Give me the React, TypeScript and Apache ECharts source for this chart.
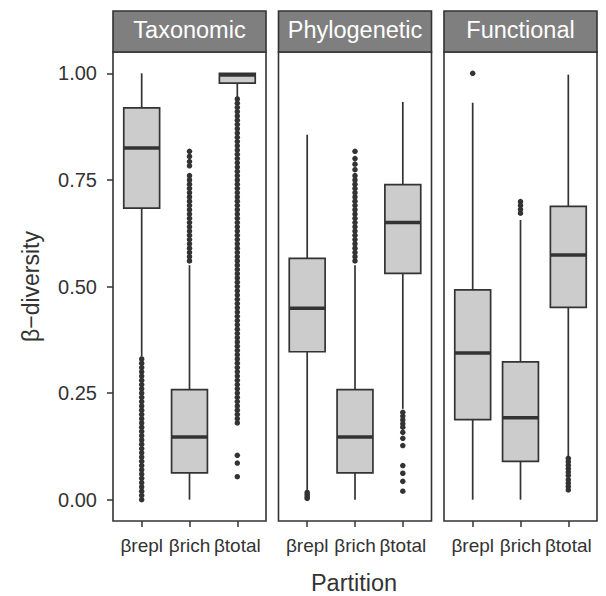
import React, { useEffect, useRef } from "react";
import * as echarts from "echarts";

const categories = ["βrepl", "βrich", "βtotal"];
const facets = ["Taxonomic", "Phylogenetic", "Functional"];
const yTicks = [0, 0.25, 0.5, 0.75, 1.0];

// [lower whisker, q1, median, q3, upper whisker] per category
const taxonomicStats = [
  [0.336, 0.684, 0.825, 0.919, 1.0],
  [0.0, 0.063, 0.147, 0.258, 0.55],
  [0.945, 0.977, 0.996, 1.0, 1.0],
];
const phylogeneticStats = [
  [0.021, 0.347, 0.449, 0.566, 0.856],
  [0.0, 0.063, 0.147, 0.258, 0.55],
  [0.213, 0.531, 0.65, 0.739, 0.933],
];
const functionalStats = [
  [0.0, 0.188, 0.344, 0.492, 0.931],
  [0.0, 0.09, 0.192, 0.323, 0.656],
  [0.1, 0.451, 0.574, 0.688, 0.997],
];

const taxonomicOutliers = [
  [0.33, 0.32, 0.31, 0.3, 0.29, 0.28, 0.27, 0.26, 0.25, 0.24, 0.23, 0.22, 0.21, 0.2, 0.19, 0.18, 0.17, 0.16, 0.15, 0.14, 0.13, 0.12, 0.11, 0.1, 0.09, 0.08, 0.07, 0.06, 0.05, 0.04, 0.03, 0.02, 0.01, 0.0],
  [0.817, 0.805, 0.793, 0.783, 0.76, 0.75, 0.74, 0.73, 0.72, 0.71, 0.7, 0.69, 0.68, 0.67, 0.66, 0.65, 0.64, 0.63, 0.62, 0.61, 0.6, 0.59, 0.58, 0.57, 0.56],
  [0.94, 0.93, 0.92, 0.91, 0.9, 0.89, 0.88, 0.87, 0.86, 0.85, 0.84, 0.83, 0.82, 0.81, 0.8, 0.79, 0.78, 0.77, 0.76, 0.75, 0.74, 0.73, 0.72, 0.71, 0.7, 0.69, 0.68, 0.67, 0.66, 0.65, 0.64, 0.63, 0.62, 0.61, 0.6, 0.59, 0.58, 0.57, 0.56, 0.55, 0.54, 0.53, 0.52, 0.51, 0.5, 0.49, 0.48, 0.47, 0.46, 0.45, 0.44, 0.43, 0.42, 0.41, 0.4, 0.39, 0.38, 0.37, 0.36, 0.35, 0.34, 0.33, 0.32, 0.31, 0.3, 0.29, 0.28, 0.27, 0.26, 0.25, 0.24, 0.23, 0.22, 0.21, 0.2, 0.19, 0.18, 0.104, 0.086, 0.054],
];
const phylogeneticOutliers = [
  [0.017, 0.012, 0.007, 0.003],
  [0.817, 0.8, 0.787, 0.774, 0.76, 0.75, 0.74, 0.73, 0.72, 0.71, 0.7, 0.69, 0.68, 0.67, 0.66, 0.65, 0.64, 0.63, 0.62, 0.61, 0.6, 0.59, 0.58, 0.57, 0.56],
  [0.205, 0.196, 0.187, 0.178, 0.17, 0.158, 0.144, 0.127, 0.08, 0.062, 0.043, 0.02],
];
const functionalOutliers = [
  [1.0],
  [0.699, 0.69, 0.681, 0.672],
  [0.097, 0.089, 0.081, 0.073, 0.065, 0.057, 0.047, 0.039, 0.031, 0.023],
];

const allStats = [taxonomicStats, phylogeneticStats, functionalStats];
const allOutliers = [taxonomicOutliers, phylogeneticOutliers, functionalOutliers];

const FONT = "'Liberation Sans', Arial, Helvetica, sans-serif";
const DARK = "#333333";

export default function App() {
  const ref = useRef<HTMLDivElement>(null);
  useEffect(() => {
    if (!ref.current) return;
    const chart = echarts.init(ref.current, undefined, { renderer: "svg" });

    const panelLefts = [113, 278.5, 444];
    const panelW = 153;
    const panelTop = 52;
    const panelH = 469;
    const unit = panelW / 3.2;

    const grids: any[] = [];
    const xAxes: any[] = [];
    const yAxes: any[] = [];
    const series: any[] = [];
    const graphics: any[] = [];

    panelLefts.forEach((L, i) => {
      grids.push({
        left: L + 0.1 * unit,
        top: panelTop,
        width: 3 * unit,
        height: panelH,
      });
      xAxes.push({
        type: "category",
        gridIndex: i,
        data: categories,
        boundaryGap: true,
        axisLine: { show: false, onZero: false },
        axisTick: { show: true, alignWithLabel: true, length: 6, lineStyle: { color: DARK, width: 1.5 } },
        axisLabel: { color: DARK, fontSize: 19, fontFamily: FONT, margin: 15, interval: 0 },
        splitLine: { show: false },
      });
      yAxes.push({
        type: "value",
        gridIndex: i,
        min: -0.05,
        max: 1.05,
        offset: 0.1 * unit,
        show: i === 0,
        axisLine: { show: false, onZero: false },
        axisTick: { show: true, length: 6, customValues: yTicks, lineStyle: { color: DARK, width: 1.5 } },
        axisLabel: {
          show: true,
          customValues: yTicks,
          color: DARK,
          fontSize: 20,
          fontFamily: FONT,
          margin: 16,
          formatter: (v: number) => v.toFixed(2),
        },
        splitLine: { show: false },
      });

      series.push({
        type: "custom",
        xAxisIndex: i,
        yAxisIndex: i,
        encode: { x: 0, y: [1, 2, 3, 4, 5] },
        data: allStats[i].map((s, k) => [k, ...s]),
        z: 2,
        renderItem: (params: any, api: any) => {
          const x = api.value(0);
          const lo = api.coord([x, api.value(1)]);
          const q1 = api.coord([x, api.value(2)]);
          const med = api.coord([x, api.value(3)]);
          const q3 = api.coord([x, api.value(4)]);
          const hi = api.coord([x, api.value(5)]);
          const bw = api.size([1, 0])[0] * 0.75;
          const cx = lo[0];
          const ls = { stroke: DARK, lineWidth: 1.7 };
          return {
            type: "group",
            children: [
              { type: "line", shape: { x1: cx, y1: hi[1], x2: cx, y2: q3[1] }, style: ls },
              { type: "line", shape: { x1: cx, y1: q1[1], x2: cx, y2: lo[1] }, style: ls },
              {
                type: "rect",
                shape: { x: cx - bw / 2, y: q3[1], width: bw, height: q1[1] - q3[1] },
                style: { fill: "#cccccc", stroke: DARK, lineWidth: 1.7 },
              },
              {
                type: "line",
                shape: { x1: cx - bw / 2, y1: med[1], x2: cx + bw / 2, y2: med[1] },
                style: { stroke: DARK, lineWidth: 3.5 },
              },
            ],
          };
        },
      });

      const pts: number[][] = [];
      allOutliers[i].forEach((arr, k) => arr.forEach((v) => pts.push([k, v])));
      series.push({
        type: "scatter",
        xAxisIndex: i,
        yAxisIndex: i,
        data: pts,
        symbol: "circle",
        symbolSize: 5.5,
        itemStyle: { color: DARK, opacity: 1 },
        z: 3,
        silent: true,
      });

      graphics.push({
        type: "rect",
        shape: { x: L, y: panelTop, width: panelW, height: panelH },
        style: { fill: "none", stroke: DARK, lineWidth: 1.6 },
        z: 10,
      });
      graphics.push({
        type: "rect",
        shape: { x: L, y: 11, width: panelW, height: panelTop - 11 },
        style: { fill: "#7f7f7f", stroke: DARK, lineWidth: 1.6 },
        z: 10,
      });
      graphics.push({
        type: "text",
        x: L + panelW / 2,
        y: 29.5,
        style: {
          text: facets[i],
          fill: "#ffffff",
          fontSize: 23.5,
          fontFamily: FONT,
          textAlign: "center",
          textVerticalAlign: "middle",
        },
        z: 11,
      });
    });

    graphics.push({
      type: "text",
      x: 31,
      y: panelTop + panelH / 2,
      rotation: Math.PI / 2,
      style: {
        text: "β−diversity",
        fill: DARK,
        fontSize: 23,
        fontFamily: FONT,
        textAlign: "center",
        textVerticalAlign: "middle",
      },
    });
    graphics.push({
      type: "text",
      x: 354,
      y: 583,
      style: {
        text: "Partition",
        fill: DARK,
        fontSize: 23.5,
        fontFamily: FONT,
        textAlign: "center",
        textVerticalAlign: "middle",
      },
    });

    chart.setOption({
      animation: false,
      backgroundColor: "#ffffff",
      grid: grids,
      xAxis: xAxes,
      yAxis: yAxes,
      series,
      graphic: graphics,
    });
    return () => chart.dispose();
  }, []);
  return (
    <div
      ref={ref}
      style={{ position: "fixed", left: 0, top: 0, width: 606, height: 596 }}
    />
  );
}
